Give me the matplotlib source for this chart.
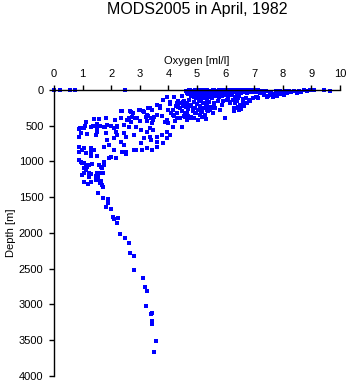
import matplotlib
matplotlib.use("Agg")
import matplotlib.pyplot as plt

plt.rcParams["font.family"] = ["Liberation Sans", "DejaVu Sans"]

# Oxygen (ml/l) and depth (m) of each bottle sample
surface_oxygen = [0.0, 0.2, 0.55, 0.72, 2.5, 9.45, 9.65]
surface_depth = [0, 0, 0, 5, 0, 0, 10]

upper_oxygen = [
    4.62, 4.70, 4.75, 4.80, 4.85, 4.90, 4.95, 5.00, 5.02, 5.05, 5.08, 5.10, 5.12, 5.15,
    5.18, 5.20, 5.22, 5.25, 5.28, 5.30, 5.32, 5.35, 5.38, 5.40, 5.42, 5.45, 5.48, 5.50,
    5.55, 5.58, 5.60, 5.65, 5.70, 5.72, 5.75, 5.80, 5.85, 5.90, 5.95, 6.00, 6.05, 6.10,
    6.15, 6.20, 6.25, 6.30, 6.35, 6.40, 6.45, 6.50, 6.55, 6.60, 6.65, 6.70, 6.75, 6.80,
    6.85, 6.90, 6.95, 7.00, 7.05, 7.10, 7.15, 7.20, 4.68, 4.78, 4.88, 4.98, 5.06, 5.14,
    5.24, 5.34, 5.44, 5.52, 5.62, 5.68, 5.78, 5.88, 5.98, 6.08, 6.22, 6.32, 6.48,
    4.72, 4.82, 4.92, 5.04, 5.16, 5.26, 5.36, 5.46, 5.56, 5.66, 5.76, 5.86, 5.96, 6.06,
    6.18, 6.28, 6.38, 6.52, 6.62, 6.72, 6.82, 6.92, 7.02, 7.12, 4.66, 4.86, 5.01, 5.21,
]
upper_depth = [
    10, 25, 5, 40, 15, 55, 30, 8, 45, 20, 70, 35, 5, 60,
    25, 85, 12, 50, 30, 100, 8, 65, 40, 20, 80, 10, 55, 30,
    15, 45, 5, 35, 20, 60, 10, 40, 25, 5, 50, 15, 30, 8,
    45, 20, 5, 35, 15, 60, 25, 5, 40, 15, 30, 5, 50, 20,
    10, 35, 5, 25, 15, 5, 30, 10, 60, 80, 95, 110, 125, 140,
    115, 130, 105, 120, 90, 75, 100, 85, 70, 90, 75, 100, 85,
    2, 18, 3, 28, 2, 38, 3, 15, 2, 22, 3, 12, 2, 18,
    3, 10, 2, 12, 3, 8, 2, 14, 2, 6, 45, 65, 90, 110,
]

mid_oxygen = [
    4.35, 4.45, 4.50, 4.55, 4.60, 4.65, 4.70, 4.72, 4.80, 4.85, 4.88, 4.92, 4.95, 5.00,
    5.05, 5.08, 5.12, 5.15, 5.20, 5.25, 5.28, 5.32, 5.38, 5.42, 5.48, 5.55, 5.58, 4.40,
    4.48, 4.58, 4.68, 4.78, 4.90, 5.02, 5.18, 5.30, 4.25, 4.30, 4.15, 4.20, 4.05, 4.10,
    5.34, 5.45, 5.51, 5.57, 5.86, 6.15, 6.33, 6.44, 6.62, 6.74, 5.98, 5.90, 6.10, 6.25,
    6.45, 6.60, 6.70, 6.85, 6.95, 7.05, 7.15, 6.50, 6.40, 6.55, 6.30, 6.65,
    3.82, 4.06, 3.59, 3.36, 3.71, 4.00, 4.29, 4.35, 4.52, 4.52, 4.76, 4.87, 5.10, 5.16,
    4.17, 4.29, 4.58, 4.64, 4.76, 3.47, 3.88, 4.00, 4.17, 4.46, 3.36, 3.47, 3.94, 4.06,
    3.77, 3.94, 3.59, 3.36, 3.59, 3.82, 3.59, 3.94, 3.82, 4.18, 4.47, 3.71, 4.35, 4.53,
    5.17, 5.35, 5.58, 5.75, 6.05, 6.16, 6.40, 6.51, 6.28, 6.46, 6.75, 6.81, 5.35, 5.81,
    5.63, 6.63, 4.41, 4.53, 4.23, 4.64, 4.94, 5.11, 3.94,
]
mid_depth = [
    150, 180, 210, 160, 240, 190, 270, 140, 220, 300, 170, 250, 330, 200,
    280, 160, 230, 310, 180, 260, 350, 210, 290, 170, 240, 320, 200, 260,
    300, 330, 360, 380, 400, 420, 380, 410, 230, 330, 280, 370, 200, 320,
    186, 280, 257, 233, 210, 163, 186, 233, 163, 186, 396, 150, 125, 140,
    120, 130, 110, 150, 120, 100, 115, 230, 260, 270, 290, 200,
    140, 163, 210, 257, 257, 280, 186, 233, 163, 210, 210, 257, 257, 303,
    350, 396, 373, 420, 396, 420, 443, 466, 513, 513, 536, 560, 583, 630,
    630, 676, 653, 653, 723, 746, 793, 106, 139, 93, 83, 232, 185, 232,
    278, 232, 185, 162, 139, 185, 162, 208, 255, 278, 185, 139, 278, 278,
    255, 232, 394, 370, 440, 324, 324, 347, 417,
]

right_oxygen = [
    7.25, 7.30, 7.35, 7.40, 7.50, 7.55, 7.60, 7.65, 7.70, 7.75, 7.80, 7.85, 7.90, 7.95,
    8.00, 8.05, 8.10, 8.15, 8.20, 8.30, 8.40, 8.50, 8.55, 8.65, 8.75, 8.85, 8.95, 7.10,
    7.22, 7.45, 7.57, 7.80, 8.04, 8.27, 8.62, 9.09,
]
right_depth = [
    40, 20, 70, 10, 90, 50, 30, 100, 60, 20, 80, 40, 15, 60,
    35, 75, 20, 50, 10, 30, 15, 40, 10, 25, 5, 15, 0, 93,
    46, 93, 69, 69, 46, 23, 23, 0,
]

lower_oxygen = [
    2.39, 2.68, 2.74, 2.97, 3.15, 3.32, 3.44, 3.26, 2.91, 3.21, 3.38, 3.50, 2.33, 2.62,
    2.68, 1.40, 1.57, 1.81, 1.11, 1.52, 1.75, 1.86, 1.28, 1.05, 2.10, 2.21, 2.45, 2.62,
    2.86, 3.03, 3.26, 0.87, 0.93, 0.87, 1.17, 1.46, 1.52, 1.81, 2.16, 2.21, 2.45, 2.51,
    2.80, 3.15, 3.38, 1.86, 2.10, 2.33, 0.87, 1.05, 1.28, 1.40, 1.75, 1.92, 2.10, 2.45,
    2.51, 2.80, 3.09, 3.26, 3.44, 0.87, 1.11, 3.30, 3.12, 3.01, 2.77, 2.65, 2.36, 2.13,
    2.36, 2.54, 2.83, 3.01, 3.24, 1.49, 1.60, 1.37, 0.90, 1.08, 2.01, 2.19, 1.78, 3.59,
    3.42, 3.77, 3.30, 3.42, 3.06,
]
lower_depth = [
    289, 303, 373, 280, 303, 257, 280, 350, 396, 373, 396, 373, 396, 396,
    443, 410, 410, 396, 452, 480, 513, 490, 513, 527, 527, 513, 490, 513,
    513, 560, 583, 550, 606, 653, 620, 630, 583, 606, 583, 630, 606, 653,
    630, 676, 700, 700, 676, 723, 793, 816, 807, 840, 793, 770, 840, 770,
    863, 840, 840, 816, 840, 863, 886, 255, 301, 278, 324, 301, 301, 417,
    394, 417, 394, 440, 440, 532, 509, 500, 532, 509, 500, 509, 519, 347,
    394, 370, 370, 470, 740,
]

deep_oxygen = [
    0.87, 0.99, 1.11, 1.28, 1.28, 1.52, 1.75, 1.92, 1.98, 2.16, 2.39, 2.51, 2.86, 3.09,
    0.87, 0.93, 0.99, 1.05, 1.11, 1.17, 1.22, 1.34, 1.57, 1.63, 1.69, 1.75, 1.05, 1.11,
    0.99, 1.05, 1.22, 1.28, 1.52, 1.63, 1.72, 1.22, 1.46, 1.55, 1.05, 1.28, 1.46, 1.52,
    1.63, 1.20, 1.61, 1.67, 1.72,
    1.55, 1.72, 1.90, 1.90, 1.82, 1.99, 2.05, 2.11, 2.23, 2.21, 2.31, 2.48, 2.62, 2.66,
    2.80, 2.80, 3.12, 3.18, 3.26, 3.22, 3.44, 3.39, 3.44, 3.42, 3.56, 3.50,
]
deep_depth = [
    862, 839, 876, 862, 923, 923, 1002, 956, 932, 956, 862, 895, 839, 839,
    979, 1002, 1026, 1026, 1049, 1072, 1049, 1035, 1049, 1072, 1095, 1049, 1095, 1119,
    1189, 1165, 1165, 1175, 1165, 1156, 1165, 1212, 1203, 1221, 1282, 1282, 1259, 1249,
    1268, 1319, 1305, 1329, 1352,
    1437, 1516, 1530, 1576, 1632, 1670, 1772, 1805, 1795, 1856, 2019, 2066, 2145, 2285,
    2322, 2518, 2626, 2760, 2808, 3022, 3115, 3138, 3232, 3278, 3512, 3670,
]

oxygen = surface_oxygen + upper_oxygen + mid_oxygen + right_oxygen + lower_oxygen + deep_oxygen
depth = surface_depth + upper_depth + mid_depth + right_depth + lower_depth + deep_depth

fig = plt.figure(figsize=(3.48, 3.84), dpi=100)
ax = fig.add_axes([0.155, 0.021, 0.822, 0.745])

ax.scatter(oxygen, depth, s=6, marker="s", color="#0000ff", linewidths=0, clip_on=False)

ax.set_xlim(0, 10)
ax.set_ylim(4000, 0)
ax.set_xticks(range(0, 11))
ax.set_yticks(range(0, 4001, 500))

ax.xaxis.tick_top()
ax.xaxis.set_label_position("top")
ax.spines["right"].set_visible(False)
ax.spines["bottom"].set_visible(False)
for side in ("left", "top"):
    ax.spines[side].set_linewidth(1.0)
ax.tick_params(length=3.5, width=1.0, labelsize=8, pad=4)

ax.set_xlabel("Oxygen [ml/l]", fontsize=8, labelpad=4)
ax.set_ylabel("Depth [m]", fontsize=8, labelpad=2)
fig.text(0.567, 0.974, "MODS2005 in April, 1982", ha="center", va="center", fontsize=11.5)

fig.savefig("out.png", dpi=100)
